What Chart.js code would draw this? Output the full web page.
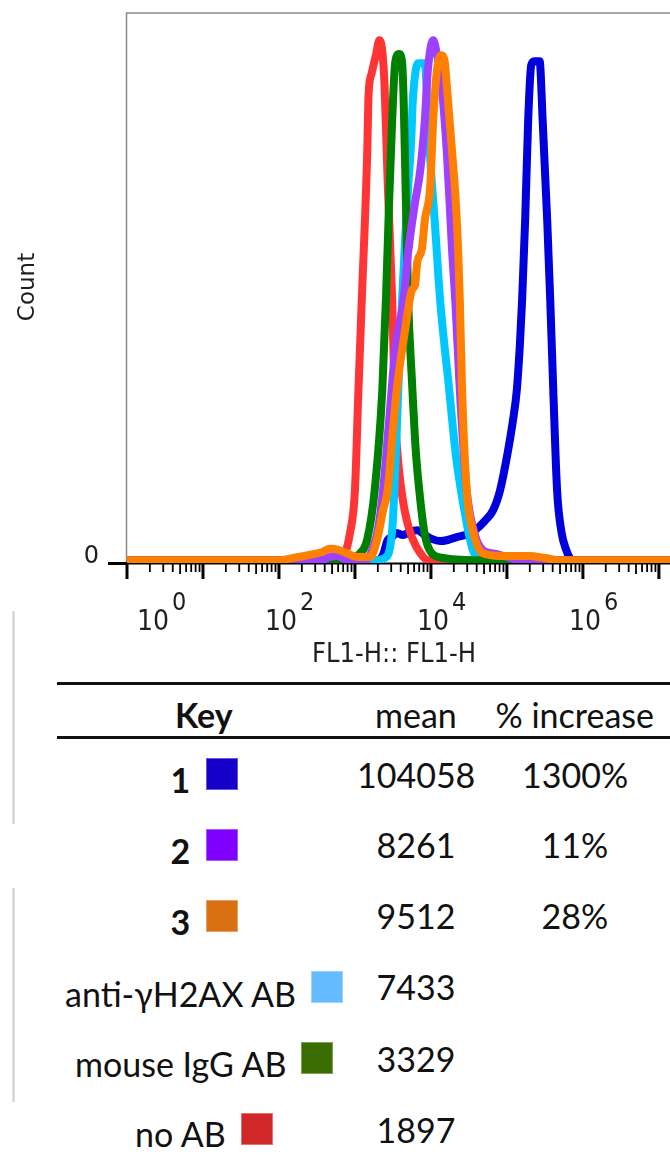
<!DOCTYPE html>
<html>
<head>
<meta charset="utf-8">
<script src="https://cdn.jsdelivr.net/npm/chart.js@4.4.0/dist/chart.umd.min.js"></script>
<style>
  body { margin: 0; width: 670px; height: 1156px; background: #fff; position: relative; overflow: hidden; color: #111; }
  #histo { position: absolute; left: 0; top: 0; }
  .rule { position: absolute; left: 57px; width: 613px; height: 2.5px; background: #111; }
  .ghost { position: absolute; left: 12px; width: 3px; background: linear-gradient(to right, #f2f2f2, #cfcfcf, #f2f2f2); }
  .t { position: absolute; white-space: nowrap; font-family: Lato, "Open Sans", sans-serif; font-size: 34px; line-height: 34px; }
  .sq { position: absolute; width: 32px; height: 32px; box-sizing: border-box; border: 1px solid rgba(255,255,255,0.35); }
</style>
</head>
<body>
<canvas id="histo" width="670" height="680"></canvas>
<div class="ghost" style="top:611px;height:213px"></div>
<div class="ghost" style="top:888px;height:214px"></div>
<div class="rule" style="top:682px"></div>
<div class="rule" style="top:736px"></div>
<script>
// FL1-H histograms (x = FL1-H, y = count, arbitrary units)
const noAbFL1 = [1, 190, 600, 740, 850, 1000, 1100, 1230, 1450, 1510, 1660, 1900, 2090, 2290, 2450, 2690, 3090, 3390, 3800, 4270, 4790, 5620, 7240, 9120, 15800, 14000000];
const noAbCount = [0, 0, 0, 1.3, 4.6, 12.8, 29.3, 47.6, 74.4, 85, 89, 92.5, 95, 93, 86.9, 69.5, 47.6, 26.2, 16.5, 11, 7.4, 4.2, 1.3, 0, 0, 0];

const iggFL1 = [1, 740, 1175, 1445, 1820, 2290, 2570, 2820, 3090, 3390, 3800, 4170, 4370, 4680, 5010, 5620, 6310, 7240, 8320, 10200, 15100, 43700, 14000000];
const iggCount = [0, 0, 1.3, 3.7, 12.8, 31.1, 48.5, 65.8, 80.5, 91, 92.5, 91, 84.2, 65.8, 47.6, 32.9, 20.1, 11, 4.6, 1.3, 0.4, 0, 0];

const h2axFL1 = [1, 1820, 2455, 3090, 3470, 3890, 4170, 4570, 5010, 5500, 5750, 6310, 6760, 8320, 9120, 10000, 11200, 13200, 17400, 21400, 28200, 35500, 46800, 14000000];
const h2axCount = [0, 0, 0.4, 5.5, 20.2, 38.4, 47.6, 58.5, 68.2, 76.8, 83.6, 89.6, 90.8, 90.8, 80.4, 71.2, 62.1, 47.6, 31.1, 18.9, 8.3, 1.9, 0, 0];

const s1FL1 = [1, 1995, 2344, 2692, 3090, 3548, 4266, 5248, 6607, 8318, 10230, 13180, 16600, 21380, 28180, 38020, 51290, 66070, 81280, 100000, 120200, 134900, 147900, 158500, 173800, 190500, 208900, 229100, 269200, 295100, 338800, 371500, 407400, 457100, 524800, 602600, 676100, 776200, 14000000];
const s1Count = [0, 0, 1.0, 3.7, 4.3, 5.0, 4.6, 5.2, 5.5, 4.6, 3.9, 3.5, 3.7, 4.2, 4.6, 5.5, 7.2, 9.2, 12.8, 18.9, 25.6, 31.1, 39.3, 47.6, 62.2, 80.5, 90.5, 91.2, 91.2, 80.5, 62.2, 47.6, 31.1, 12.8, 5.0, 1.9, 0.4, 0, 0];

const s2FL1 = [1, 347, 468, 575, 741, 1350, 1585, 1995, 2344, 2818, 3388, 4365, 5012, 6166, 7244, 8318, 9120, 10720, 12020, 13180, 16220, 19050, 20890, 23990, 29510, 38020, 47860, 69180, 100000, 147900, 14000000];
const s2Count = [0, 0, 0.6, 0.8, 0.2, 0, 1.0, 5.5, 12.8, 25.6, 38.4, 47.6, 56.2, 65.3, 71.3, 80.5, 89.6, 95, 92.4, 89.6, 74.4, 56.2, 47.6, 31.1, 12.8, 4.6, 1.9, 1.2, 0.6, 0, 0];

const s3FL1 = [1, 102, 151, 257, 372, 468, 603, 776, 1096, 1585, 1950, 2344, 2692, 3162, 3548, 4571, 5623, 6166, 6607, 7586, 8318, 9772, 10720, 12020, 13800, 15140, 16220, 19050, 21880, 23990, 25700, 29510, 35480, 47860, 81280, 199500, 316200, 501200, 14000000];
const s3Count = [0, 0, 0.4, 1.0, 1.5, 2.1, 1.9, 1.3, 0.6, 0.6, 3.7, 9.1, 12.8, 23.8, 31.1, 42.1, 49.4, 50.3, 54.5, 56.8, 62.2, 68.2, 80.5, 89.6, 92.3, 91.2, 86.5, 74.4, 62.2, 47.6, 31.1, 12.8, 5.5, 1.3, 0.8, 0.8, 0.4, 0, 0];

// x axis decades that carry a 10^n label
const labelledDecades = [0, 2, 4, 6];

// summary table under the plot
const keyLabels = ['1', '2', '3', 'anti-\u03b3H2AX AB', 'mouse IgG AB', 'no AB'];
const keyBold = [true, true, true, false, false, false];
const meanValues = ['104058', '8261', '9512', '7433', '3329', '1897'];
const pctIncrease = ['1300%', '11%', '28%', '', '', ''];
const keyColors = ['#1400c8', '#7f00ff', '#d97012', '#66bbff', '#3a6e00', '#d02828'];

const lineColors = {
  s3: '#ff8000', s2: '#a040ff', igg: '#008000', h2ax: '#00c8ff', noAb: '#ff3535', s1: '#0000dc'
};

function pts(xs, ys) { return xs.map((v, i) => ({ x: v, y: ys[i] })); }

function curve(label, xs, ys, color) {
  return {
    label: label,
    data: pts(xs, ys),
    borderColor: color,
    borderWidth: 8,
    pointRadius: 0,
    fill: false,
    cubicInterpolationMode: 'monotone',
    borderJoinStyle: 'round',
    borderCapStyle: 'round'
  };
}

// draws the FlowJo style frame, log ticks and labels from the chart scales
const flowAxes = {
  id: 'flowAxes',
  beforeDatasetsDraw(chart) {
    const { ctx, chartArea: a, scales: { x } } = chart;
    ctx.save();
    ctx.strokeStyle = '#8a8a8a';
    ctx.lineWidth = 1.5;
    ctx.beginPath();
    ctx.moveTo(a.left - 0.5, a.bottom);
    ctx.lineTo(a.left - 0.5, a.top);
    ctx.lineTo(a.right + 2, a.top);
    ctx.stroke();

    ctx.strokeStyle = '#000';
    ctx.lineWidth = 2;
    ctx.beginPath();
    ctx.moveTo(a.left - 19, a.bottom + 0.5);
    ctx.lineTo(a.right, a.bottom + 0.5);
    ctx.stroke();
    ctx.lineWidth = 3;
    ctx.beginPath();
    ctx.moveTo(a.left - 19, a.bottom + 0.5);
    ctx.lineTo(a.left, a.bottom + 0.5);
    ctx.stroke();

    for (let k = 0; k <= 7; k++) {
      const px = x.getPixelForValue(Math.pow(10, k));
      if (px <= a.right + 1) {
        ctx.lineWidth = 3;
        ctx.beginPath();
        ctx.moveTo(px, a.bottom);
        ctx.lineTo(px, a.bottom + 16);
        ctx.stroke();
      }
      for (let m = 2; m <= 9; m++) {
        const mx = x.getPixelForValue(m * Math.pow(10, k));
        if (mx > a.right) continue;
        ctx.lineWidth = 1.8;
        ctx.beginPath();
        ctx.moveTo(mx, a.bottom);
        ctx.lineTo(mx, a.bottom + (m === 5 ? 11 : 9));
        ctx.stroke();
      }
    }
    ctx.restore();
  },
  afterDraw(chart) {
    const { ctx, chartArea: a, scales: { x } } = chart;
    ctx.save();
    ctx.fillStyle = '#1e1e1e';
    ctx.textBaseline = 'alphabetic';

    ctx.font = '24px "DejaVu Sans"';
    ctx.textAlign = 'right';
    ctx.fillText('0', a.left - 28, a.bottom);

    ctx.textAlign = 'left';
    labelledDecades.forEach(k => {
      const px = x.getPixelForValue(Math.pow(10, k));
      const left = Math.max(px - 14, a.left + 10);
      ctx.font = '28px "DejaVu Sans Condensed", "DejaVu Sans"';
      ctx.fillText('10', left, a.bottom + 67);
      const w = ctx.measureText('10').width;
      ctx.font = '25px "DejaVu Sans Condensed", "DejaVu Sans"';
      ctx.fillText(String(k), left + w + 3, a.bottom + 47);
    });

    ctx.font = '27px "DejaVu Sans Condensed", "DejaVu Sans"';
    ctx.fillText('FL1-H:: FL1-H', 312, a.bottom + 99);

    ctx.translate(34, 287);
    ctx.rotate(-Math.PI / 2);
    ctx.textAlign = 'center';
    ctx.font = '23px "DejaVu Sans"';
    ctx.fillText('Count', 0, 0);
    ctx.restore();
  }
};

new Chart(document.getElementById('histo'), {
  type: 'line',
  data: {
    datasets: [
      curve('3', s3FL1, s3Count, lineColors.s3),
      curve('2', s2FL1, s2Count, lineColors.s2),
      curve('mouse IgG AB', iggFL1, iggCount, lineColors.igg),
      curve('anti-\u03b3H2AX AB', h2axFL1, h2axCount, lineColors.h2ax),
      curve('no AB', noAbFL1, noAbCount, lineColors.noAb),
      curve('1', s1FL1, s1Count, lineColors.s1)
    ]
  },
  options: {
    responsive: false,
    animation: false,
    devicePixelRatio: 1,
    layout: { padding: { left: 127, top: 13, right: 0, bottom: 117 } },
    plugins: { legend: { display: false }, tooltip: { enabled: false } },
    scales: {
      x: { type: 'logarithmic', min: 1, max: 14000000, display: false },
      y: { type: 'linear', min: -0.5, max: 100, display: false }
    }
  },
  plugins: [flowAxes]
});

// place a text so that its baseline lands on the given y
function placeText(txt, baseline, opts) {
  const d = document.createElement('div');
  d.className = 't';
  if (opts.bold) d.style.fontWeight = '700';
  d.textContent = txt;
  const mark = document.createElement('span');
  mark.style.cssText = 'display:inline-block;width:0;height:0;vertical-align:baseline';
  d.appendChild(mark);
  document.body.appendChild(d);
  d.style.top = (baseline - mark.offsetTop) + 'px';
  const w = d.offsetWidth;
  if (opts.center !== undefined) d.style.left = (opts.center - w / 2) + 'px';
  if (opts.right !== undefined) d.style.left = (opts.right - w) + 'px';
  return d;
}

placeText('Key', 728, { bold: true, center: 204 });
placeText('mean', 728, { center: 416 });
placeText('% increase', 728, { center: 575 });

const rowTop = [758, 829, 900, 971, 1042, 1113];
const keyBase = [793, 864, 935, 1007, 1077, 1147];
const numBase = [788, 858, 929, 1000, 1072, 1143];

keyLabels.forEach((lab, i) => {
  // text + swatch group is centred on the Key column
  const probe = placeText(lab, keyBase[i], { bold: keyBold[i], right: 0 });
  const tw = probe.offsetWidth;
  const groupW = tw + 15 + 32;
  const left = 204 - groupW / 2;
  probe.style.left = left + 'px';
  const sq = document.createElement('div');
  sq.className = 'sq';
  sq.style.left = (left + tw + 15) + 'px';
  sq.style.top = rowTop[i] + 'px';
  sq.style.background = keyColors[i];
  document.body.appendChild(sq);

  placeText(meanValues[i], numBase[i], { center: 416 });
  if (pctIncrease[i]) placeText(pctIncrease[i], numBase[i], { center: 575 });
});
</script>
</body>
</html>
